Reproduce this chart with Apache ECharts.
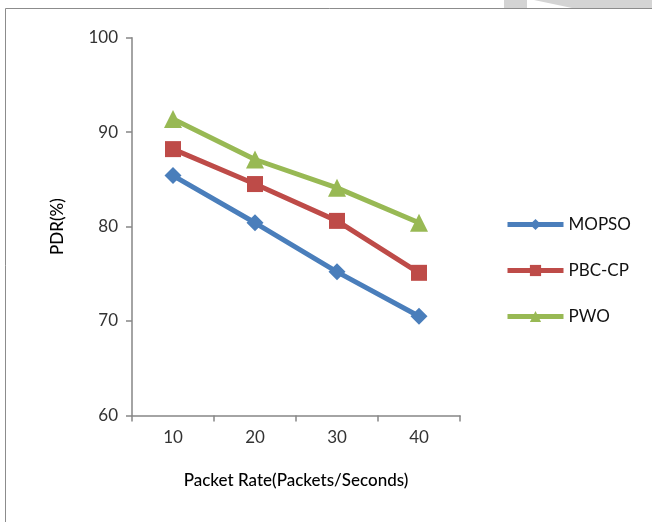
<!DOCTYPE html>
<html>
<head>
<meta charset="utf-8">
<script src="https://cdn.jsdelivr.net/npm/echarts@6/dist/echarts.min.js"></script>
<style>html,body{margin:0;padding:0;background:#fff}#c{width:652px;height:522px}</style>
</head>
<body>
<div id="c"></div>
<script>
var categories = ['10', '20', '30', '40'];
var seriesNames = ['MOPSO', 'PBC-CP', 'PWO'];
var mopso = [85.4, 80.4, 75.2, 70.5];
var pbccp = [88.2, 84.5, 80.6, 75.1];
var pwo = [91.4, 87.1, 84.1, 80.4];
var yTicks = [60, 70, 80, 90, 100];

var FONT = 'Lato';
var chart = echarts.init(document.getElementById('c'), null, {renderer: 'canvas'});
var colors = ['#4A7EBB', '#BE4B48', '#98B954'];
var symbols = ['diamond', 'rect', 'triangle'];
var sizes = [17, 16, 18];
var values = [mopso, pbccp, pwo];

chart.setOption({
  animation: false,
  backgroundColor: '#fff',
  graphic: [
    {type: 'rect', shape: {x: 5.5, y: 8.5, width: 700, height: 600}, style: {fill: 'none', stroke: '#8c8c8c', lineWidth: 1}, z: -1},
    {type: 'polygon', shape: {points: [[504, 0], [527, 0], [527, 8], [504, 8]]}, style: {fill: '#d4d4d4'}},
    {type: 'polygon', shape: {points: [[534, 0], [652, 0], [652, 8], [572, 8]]}, style: {fill: '#d4d4d4'}}
  ],
  grid: {left: 132, right: 192, top: 37.7, bottom: 106.6},
  legend: {
    orient: 'vertical',
    left: 500,
    top: 211,
    itemWidth: 56,
    itemHeight: 14,
    itemGap: 29,
    lineStyle: {width: 5},
    textStyle: {fontFamily: FONT, fontSize: 17, color: '#111'},
    data: seriesNames
  },
  xAxis: {
    type: 'category',
    data: categories,
    boundaryGap: true,
    name: 'Packet Rate(Packets/Seconds)',
    nameLocation: 'middle',
    nameGap: 57,
    nameTextStyle: {fontFamily: FONT, fontSize: 17, color: '#000', fontWeight: 500},
    axisLine: {lineStyle: {color: '#868686', width: 1.5}},
    axisTick: {show: true, length: 6, lineStyle: {color: '#868686', width: 1.5}},
    axisLabel: {fontFamily: FONT, fontSize: 17, color: '#333', margin: 14},
    splitLine: {show: false}
  },
  yAxis: {
    type: 'value',
    min: yTicks[0],
    max: yTicks[yTicks.length - 1],
    interval: 10,
    name: 'PDR(%)',
    nameLocation: 'middle',
    nameGap: 66,
    nameTextStyle: {fontFamily: FONT, fontSize: 17, color: '#000', fontWeight: 500},
    axisLine: {show: true, lineStyle: {color: '#868686', width: 1.5}},
    axisTick: {show: true, length: 6, lineStyle: {color: '#868686', width: 1.5}},
    axisLabel: {fontFamily: FONT, fontSize: 17, color: '#333', margin: 14},
    splitLine: {show: false}
  },
  series: seriesNames.map(function (n, i) {
    return {
      name: n,
      type: 'line',
      data: values[i],
      symbol: symbols[i],
      symbolSize: sizes[i],
      lineStyle: {color: colors[i], width: 5},
      itemStyle: {color: colors[i]}
    };
  })
});
</script>
</body>
</html>
